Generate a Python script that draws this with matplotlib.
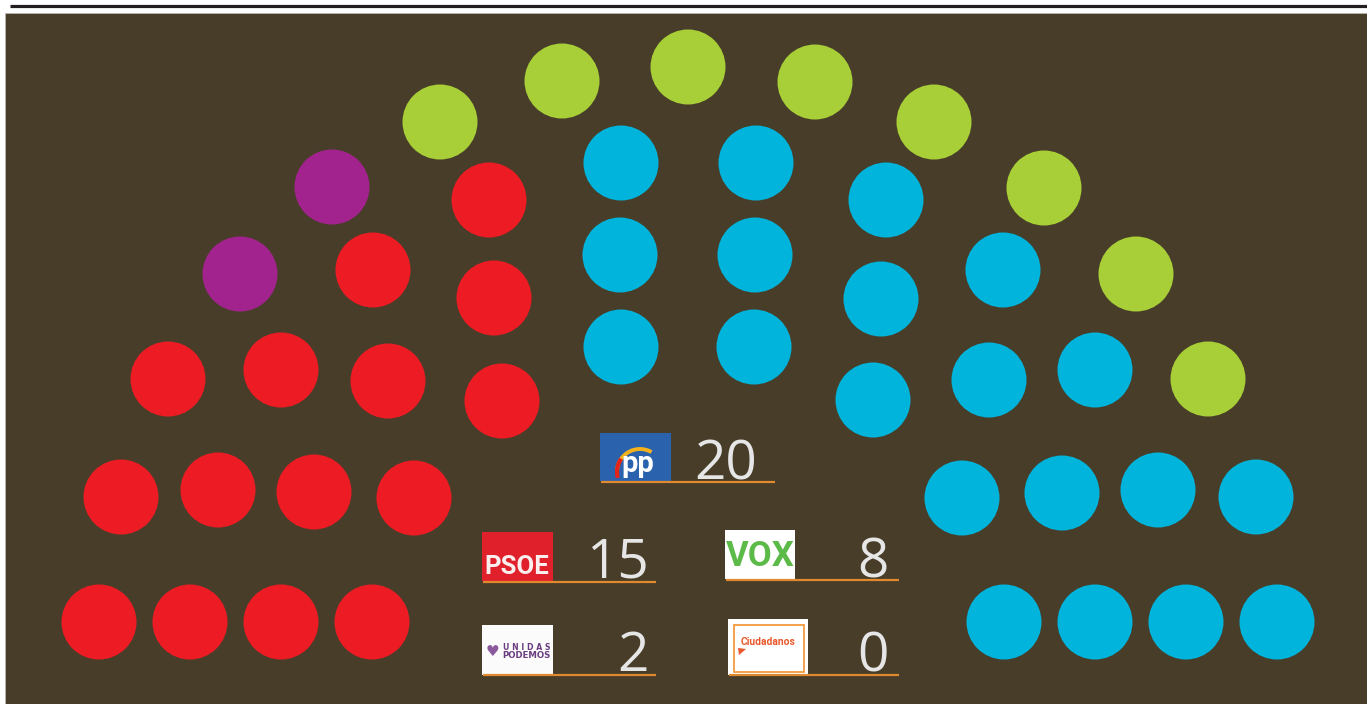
import matplotlib
matplotlib.use("Agg")
import matplotlib.pyplot as plt
from matplotlib.patches import Rectangle, Circle, Arc, Polygon

# parties and seats
parties = ["PP", "PSOE", "VOX", "Unidas Podemos", "Ciudadanos"]
seats = [20, 15, 8, 2, 0]
colors = {"PP": "#00b4dc", "PSOE": "#ed1c24", "VOX": "#a8cf38",
          "Unidas Podemos": "#a3238e", "Ciudadanos": "#f07d21"}

# seat centres (pixels)
pp_x = [621, 756, 620, 755, 621, 754, 886, 881, 873, 1003, 989, 1095,
        962, 1062, 1158, 1256, 1004, 1095, 1186, 1277]
pp_y = [163, 163, 255, 255, 347, 347, 200, 299, 400, 270, 380, 370,
        498, 493, 490, 497, 622, 622, 622, 622]
psoe_x = [99, 190, 281, 372, 121, 218, 314, 414, 168, 281, 388, 502,
          373, 489, 494]
psoe_y = [622, 622, 622, 622, 497, 490, 492, 498, 379, 370, 381, 401,
          270, 200, 298]
vox_x = [440, 562, 688, 815, 934, 1044, 1136, 1208]
vox_y = [122, 81, 67, 82, 122, 188, 274, 379]
up_x = [332, 240]
up_y = [187, 274]
seat_pos = {"PP": (pp_x, pp_y), "PSOE": (psoe_x, psoe_y), "VOX": (vox_x, vox_y),
            "Unidas Podemos": (up_x, up_y), "Ciudadanos": ([], [])}

W, H = 1367, 704
BG = "#483d29"
NUM_COLOR = "#e6e6e6"
LINE_COLOR = "#e0892e"
SEAT_R = 37.5

fig = plt.figure(figsize=(W / 100, H / 100), dpi=100)
fig.patch.set_facecolor("white")
ax = fig.add_axes([0, 0, 1, 1])
ax.set_xlim(0, W)
ax.set_ylim(H, 0)
ax.set_aspect("equal")
ax.axis("off")

# top rule and panel
ax.plot([10, W], [6, 6], color="#231f20", lw=2.3, solid_capstyle="butt")
ax.add_patch(Rectangle((5, 13), W - 5, H - 13, facecolor=BG, edgecolor="#bdb8ae", lw=0.6))

for p in parties:
    xs, ys = seat_pos[p]
    for x, y in zip(xs, ys):
        ax.add_patch(Circle((x, y), SEAT_R, facecolor=colors[p], edgecolor="none"))

# logo boxes: party -> (x0, y0, x1, y1), underline end, number right edge, baseline
logo_box = {"PP": (600, 433, 671, 481), "PSOE": (482, 532, 553, 581),
            "VOX": (725, 530, 795, 579), "Unidas Podemos": (482, 625, 553, 675),
            "Ciudadanos": (728, 619, 808, 675)}
line_end = {"PP": 775, "PSOE": 656, "VOX": 899, "Unidas Podemos": 656, "Ciudadanos": 899}
line_y = {"PP": 482, "PSOE": 582, "VOX": 580, "Unidas Podemos": 675, "Ciudadanos": 675}
num_right = {"PP": 757, "PSOE": 649, "VOX": 889, "Unidas Podemos": 649, "Ciudadanos": 889}
num_base = {"PP": 480, "PSOE": 577, "VOX": 578, "Unidas Podemos": 671, "Ciudadanos": 671}
box_face = {"PP": "#2a62ae", "PSOE": "#e0202a", "VOX": "white",
            "Unidas Podemos": "#fbfbfb", "Ciudadanos": "white"}

for p, n in zip(parties, seats):
    x0, y0, x1, y1 = logo_box[p]
    ax.add_patch(Rectangle((x0, y0), x1 - x0, y1 - y0, facecolor=box_face[p], edgecolor="none"))
    ax.plot([x0 + 1, line_end[p]], [line_y[p], line_y[p]], color=LINE_COLOR, lw=1.6,
            solid_capstyle="butt")
    ax.text(num_right[p], num_base[p], str(n), ha="right", va="baseline",
            fontsize=39.5, color=NUM_COLOR, family=["Open Sans", "DejaVu Sans"])

# PP logo
ax.add_patch(Arc((640, 472), 46, 46, theta1=175, theta2=300, color="#f6b21b", lw=2.8))
ax.add_patch(Arc((640, 472), 46, 46, theta1=165, theta2=215, color="#e2231a", lw=3.0))
ax.text(638, 464, "pp", ha="center", va="center", fontsize=21, fontweight="bold",
        color="white", family=["Roboto", "DejaVu Sans"])

# PSOE logo
ax.text(517, 567, "PSOE", ha="center", va="center", fontsize=18.5, fontweight="bold",
        color="#fbeeee", family=["Roboto", "DejaVu Sans"])

# VOX logo
ax.text(760, 557, "VOX", ha="center", va="center", fontsize=25, fontweight="bold",
        color="#5cba48", family=["Roboto", "DejaVu Sans"])

# Unidas Podemos logo
ax.text(492, 651, "\u2665", ha="center", va="center", fontsize=11,
        color="#8a5a9c", family=["DejaVu Sans"])
ax.text(527, 647, "U N I D A S", ha="center", va="center", fontsize=5.6, fontweight="bold",
        color="#6a3d80", family=["DejaVu Sans"])
ax.text(526, 656, "PODEMOS", ha="center", va="center", fontsize=6.2, fontweight="bold",
        color="#6a3d80", family=["DejaVu Sans"])

# Ciudadanos logo
ax.add_patch(Rectangle((734, 625), 70, 47, facecolor="none", edgecolor="#f39a3e", lw=1.3))
ax.text(768, 642, "Ciudadanos", ha="center", va="center", fontsize=7.4, fontweight="bold",
        color="#e8582c", family=["Roboto", "DejaVu Sans"])
ax.add_patch(Polygon([[738, 648], [746, 649], [739, 655]], closed=True,
                     facecolor="#e8582c", edgecolor="none"))

fig.savefig("out.png", dpi=100, facecolor=fig.get_facecolor())
